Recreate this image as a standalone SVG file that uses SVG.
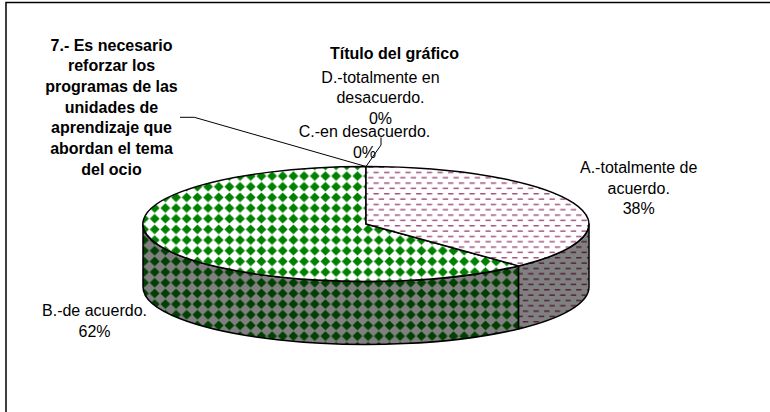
<svg xmlns="http://www.w3.org/2000/svg" width="770" height="412" viewBox="0 0 770 412">
<style>
text{font-family:"Liberation Sans",Arial,sans-serif;font-size:16px;fill:#000;text-anchor:middle}
.b{font-weight:bold}
.edge{stroke:#000;stroke-width:1.5;stroke-linejoin:round}
.lead{fill:none;stroke:#000;stroke-width:1}
</style>
<defs>
<pattern id="dTop" patternUnits="userSpaceOnUse" width="10.67" height="10.67">
<rect width="10.67" height="10.67" fill="#fff"/>
<polygon points="5.33,0.4 10.27,5.33 5.33,10.27 0.4,5.33" fill="#008000"/>
</pattern>
<pattern id="dSide" patternUnits="userSpaceOnUse" width="10.67" height="10.67">
<rect width="10.67" height="10.67" fill="#808080"/>
<polygon points="5.33,0.4 10.27,5.33 5.33,10.27 0.4,5.33" fill="#004000"/>
</pattern>
<pattern id="hTop" patternUnits="userSpaceOnUse" width="10.67" height="10.67">
<rect width="10.67" height="10.67" fill="#fff"/>
<rect x="0" y="1" width="5.33" height="1.4" fill="#a04a7c"/>
<rect x="5.33" y="6.33" width="5.33" height="1.4" fill="#a04a7c"/>
</pattern>
<pattern id="hSide" patternUnits="userSpaceOnUse" width="10.67" height="10.67">
<rect width="10.67" height="10.67" fill="#808080"/>
<rect x="0" y="1" width="5.33" height="1.4" fill="#4d1a33"/>
<rect x="5.33" y="6.33" width="5.33" height="1.4" fill="#4d1a33"/>
</pattern>
</defs>
<rect x="6" y="2.5" width="800" height="500" fill="#fff" stroke="#000" stroke-width="1.5"/>
<g id="slice-B">
<path class="edge" fill="url(#dSide)" d="M143,224 A223,57.5 0 0 0 518.6,265.9 L518.6,328.9 A223,57.5 0 0 1 143,287 Z"/>
<path class="edge" fill="url(#dTop)" d="M366,224 L366,166.5 A223,57.5 0 1 0 518.6,265.9 Z"/>
</g>
<g id="slice-A">
<path class="edge" fill="url(#hSide)" d="M518.6,265.9 A223,57.5 0 0 0 589,224 L589,287 A223,57.5 0 0 1 518.6,328.9 Z"/>
<path class="edge" fill="url(#hTop)" d="M366,224 L366,166.5 A223,57.5 0 0 1 518.6,265.9 Z"/>
</g>
<g id="connectors">
<polyline class="lead" points="180,117.3 194.3,117.3 366,166.5"/>
<polyline class="lead" points="366,166.5 381,145 381,137.5"/>
</g>
<g id="title"><text class="b" x="394.5" y="59">Título del gráfico</text></g>
<g id="label-7">
<text class="b" x="111.5" y="50.5">7.- Es necesario</text>
<text class="b" x="111.5" y="71.2">reforzar los</text>
<text class="b" x="111.5" y="91.9">programas de las</text>
<text class="b" x="111.5" y="112.6">unidades de</text>
<text class="b" x="111.5" y="133.3">aprendizaje que</text>
<text class="b" x="111.5" y="154">abordan el tema</text>
<text class="b" x="111.5" y="174.7">del ocio</text>
</g>
<g id="label-D">
<text x="380.5" y="82.5">D.-totalmente en</text>
<text x="380.5" y="103">desacuerdo.</text>
<text x="380.5" y="123.5">0%</text>
</g>
<g id="label-C">
<text x="364.5" y="137.3">C.-en desacuerdo.</text>
<text x="364.5" y="158">0%</text>
</g>
<g id="label-A">
<text x="638.7" y="173.3">A.-totalmente de</text>
<text x="638.7" y="193.7">acuerdo.</text>
<text x="638.7" y="214">38%</text>
</g>
<g id="label-B">
<text x="94.5" y="316">B.-de acuerdo.</text>
<text x="94.5" y="336.5">62%</text>
</g>
</svg>
